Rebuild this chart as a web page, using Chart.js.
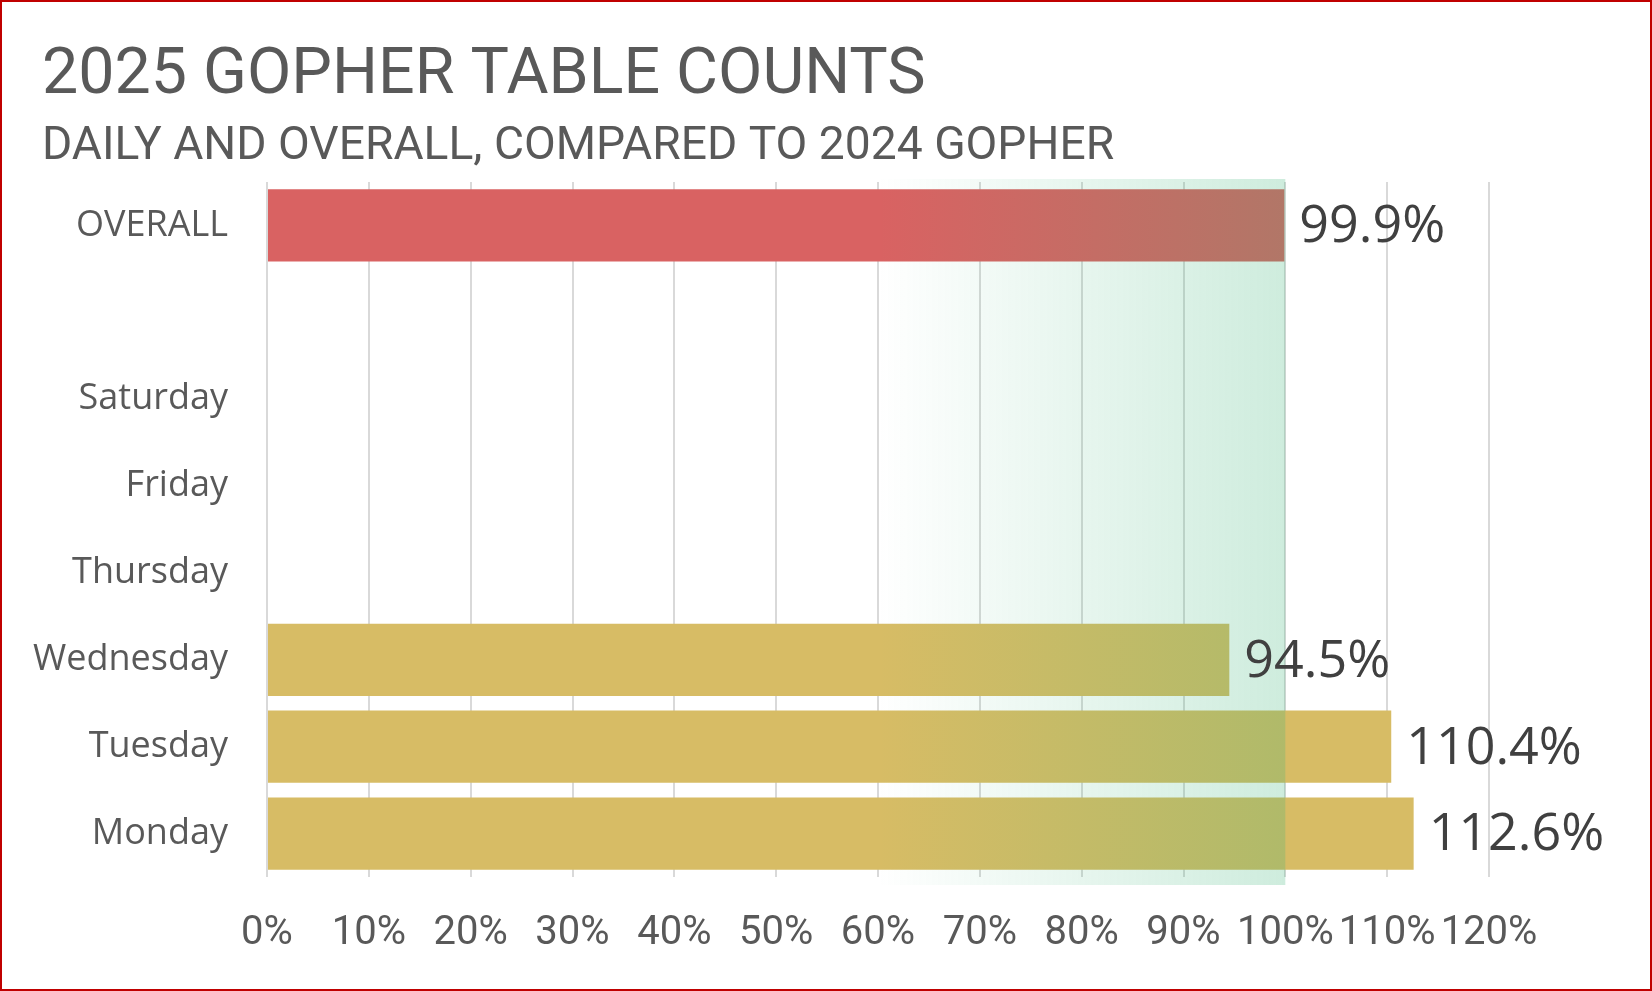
<!DOCTYPE html>
<html>
<head>
<meta charset="utf-8">
<title>2025 Gopher Table Counts</title>
<script src="https://cdn.jsdelivr.net/npm/chart.js@4.4.0/dist/chart.umd.min.js"></script>
<style>
  html, body { margin: 0; padding: 0; background: #fff; }
  #wrap { position: relative; width: 1652px; height: 991px; }
  #frame {
    position: absolute; left: 0; top: 0; width: 1652px; height: 991px;
    box-sizing: border-box; border: 2px solid #C00000; pointer-events: none;
  }
</style>
</head>
<body>
<div id="wrap">
  <canvas id="gopherChart" width="1652" height="991"></canvas>
  <div id="frame"></div>
</div>
<script>
// ---- data ----
const categories = ['OVERALL', '', 'Saturday', 'Friday', 'Thursday', 'Wednesday', 'Tuesday', 'Monday'];
const pctOf2024 = [99.9, null, null, null, null, 94.5, 110.4, 112.6];
const xTicks = [0, 10, 20, 30, 40, 50, 60, 70, 80, 90, 100, 110, 120];

const TITLE = '2025 GOPHER TABLE COUNTS';
const SUBTITLE = 'DAILY AND OVERALL, COMPARED TO 2024 GOPHER';

// ---- styles ----
const RED = '#D96262';
const GOLD = '#D7BC65';
const GREY = '#595959';
const LABEL = '#404040';

// title + subtitle, left aligned with the frame rather than the axis
const header = {
  id: 'header',
  afterDraw(chart) {
    const { ctx } = chart;
    ctx.save();
    ctx.fillStyle = GREY;
    ctx.textAlign = 'left';
    ctx.textBaseline = 'alphabetic';
    ctx.font = '64.5px Roboto';
    ctx.fillText(TITLE, 42, 93);
    ctx.font = '46.2px Roboto';
    ctx.fillText(SUBTITLE, 42, 159);
    ctx.restore();
  }
};

// green "target" band fading in from 60% to 100%
const targetBand = {
  id: 'targetBand',
  afterDatasetsDraw(chart) {
    const { ctx, chartArea, scales } = chart;
    const x0 = scales.x.getPixelForValue(60);
    const x1 = scales.x.getPixelForValue(100);
    const g = ctx.createLinearGradient(x0, 0, x1, 0);
    g.addColorStop(0, 'rgba(60, 180, 120, 0)');
    g.addColorStop(1, 'rgba(60, 180, 120, 0.25)');
    ctx.save();
    ctx.fillStyle = g;
    ctx.fillRect(x0, chartArea.top - 3, x1 - x0, chartArea.bottom - chartArea.top + 11);
    ctx.restore();
  }
};

// value labels just past the end of each bar
const valueLabels = {
  id: 'valueLabels',
  afterDraw(chart) {
    const { ctx } = chart;
    const meta = chart.getDatasetMeta(0);
    ctx.save();
    ctx.font = '52px "Open Sans"';
    ctx.fillStyle = LABEL;
    ctx.textAlign = 'left';
    ctx.textBaseline = 'middle';
    meta.data.forEach((bar, i) => {
      const v = pctOf2024[i];
      if (v == null) return;
      ctx.fillText(v.toFixed(1) + '%', bar.x + 15, bar.y + 2);
    });
    ctx.restore();
  }
};

new Chart(document.getElementById('gopherChart'), {
  type: 'bar',
  data: {
    labels: categories,
    datasets: [{
      data: pctOf2024,
      backgroundColor: ctx => (ctx.dataIndex === 0 ? RED : GOLD),
      borderWidth: 0,
      categoryPercentage: 1,
      barPercentage: 0.833
    }]
  },
  options: {
    indexAxis: 'y',
    responsive: false,
    animation: false,
    devicePixelRatio: 1,
    layout: { padding: { left: 15, right: 163, top: 182, bottom: 0 } },
    plugins: {
      legend: { display: false },
      tooltip: { enabled: false },
      title: { display: false }
    },
    scales: {
      x: {
        min: 0,
        max: 120,
        afterBuildTicks: scale => { scale.ticks = xTicks.map(v => ({ value: v })); },
        ticks: {
          color: GREY,
          padding: 33,
          maxRotation: 0,
          minRotation: 0,
          autoSkip: false,
          font: { family: 'Roboto', size: 40, lineHeight: 1.2 },
          callback: v => v + '%'
        },
        grid: { color: 'rgba(0, 0, 0, 0.15)', lineWidth: 2, drawTicks: false },
        border: { display: false },
        z: 1
      },
      y: {
        afterFit: scale => { scale.width = 267 - 15; },
        ticks: {
          color: GREY,
          padding: 39,
          font: { family: 'Open Sans', size: 36 }
        },
        grid: { display: false, drawTicks: false },
        border: { display: false }
      }
    }
  },
  plugins: [targetBand, valueLabels, header]
});
</script>
</body>
</html>
